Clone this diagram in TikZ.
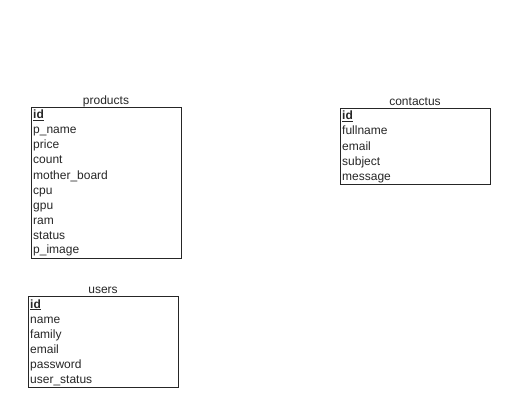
\documentclass[tikz,border=0pt]{standalone}
\usepackage{fontspec}
\setmainfont{Liberation Sans}
\begin{document}
\begin{tikzpicture}[x=1pt,y=-1pt,
  tbl/.style={draw=black!85,line width=0.8pt,inner sep=0pt,anchor=north west},
  ttl/.style={font=\fontsize{12}{14}\selectfont,text=black!85,inner sep=0pt,anchor=center},
  fld/.style={font=\fontsize{12}{14}\selectfont,text=black!85,inner sep=0pt,anchor=west,text height=8.6pt,text depth=2.6pt},
  key/.style={fld,font=\fontsize{12}{14}\selectfont\bfseries}]
\useasboundingbox (0,0) rectangle (515,412);
% products
\node[tbl,minimum width=150pt,minimum height=151pt] (products) at (31,107) {};
\node[ttl] (productsT) at (106,101) {products};
\node[key] (p1) at (33,116) {\underline{id}};
\node[fld] (p2) at (33,131) {p\_name};
\node[fld] (p3) at (33,146) {price};
\node[fld] (p4) at (33,161) {count};
\node[fld] (p5) at (33,176) {mother\_board};
\node[fld] (p6) at (33,191) {cpu};
\node[fld] (p7) at (33,206) {gpu};
\node[fld] (p8) at (33,221) {ram};
\node[fld] (p9) at (33,236) {status};
\node[fld] (p10) at (33,251) {p\_image};
% contactus
\node[tbl,minimum width=150pt,minimum height=76pt] (contactus) at (340,108) {};
\node[ttl] (contactusT) at (415,102) {contactus};
\node[key] (c1) at (342,117) {\underline{id}};
\node[fld] (c2) at (342,132) {fullname};
\node[fld] (c3) at (342,147) {email};
\node[fld] (c4) at (342,162) {subject};
\node[fld] (c5) at (342,177) {message};
% users
\node[tbl,minimum width=150pt,minimum height=91pt] (users) at (28,296) {};
\node[ttl] (usersT) at (103,290) {users};
\node[key] (u1) at (30,305) {\underline{id}};
\node[fld] (u2) at (30,320) {name};
\node[fld] (u3) at (30,335) {family};
\node[fld] (u4) at (30,350) {email};
\node[fld] (u5) at (30,365) {password};
\node[fld] (u6) at (30,380) {user\_status};
\end{tikzpicture}
\end{document}
